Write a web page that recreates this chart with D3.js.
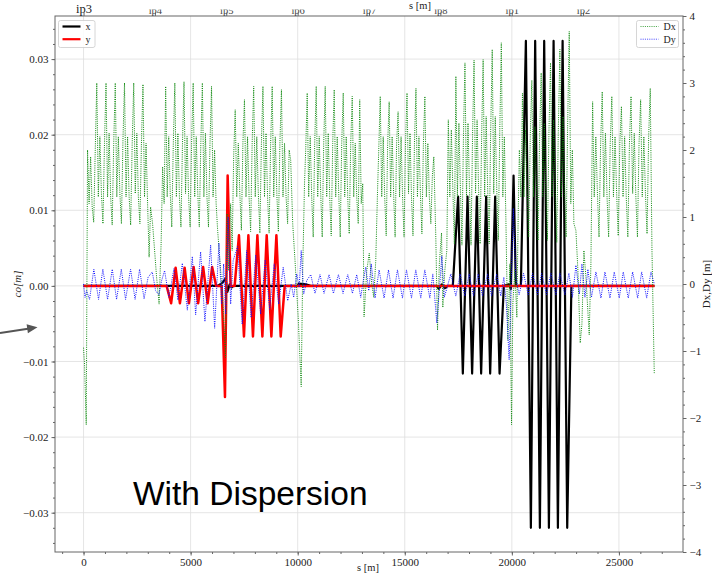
<!DOCTYPE html>
<html>
<head>
<meta charset="utf-8">
<script src="https://cdn.jsdelivr.net/npm/d3@7"></script>
<style>
  body { margin: 0; background: #fff; }
</style>
</head>
<body>
<svg id="chart"></svg>
<script>
const [W, H] = [712, 574];
const plot = {left: 55, right: 683, top: 16, bottom: 552};
const serif = '"Liberation Serif", "DejaVu Serif", serif';

// axis ticks / labels
const sTicks = [0, 5000, 10000, 15000, 20000, 25000];
const coTicks = [-0.03, -0.02, -0.01, 0, 0.01, 0.02, 0.03];
const dTicks = [-4, -3, -2, -1, 0, 1, 2, 3, 4];
const ipNames = ['ip3', 'ip4', 'ip5', 'ip6', 'ip7', 'ip8', 'ip1', 'ip2'];
const ipPos = [0, 3332, 6664, 9997, 13329, 16661, 19994, 23326];

// closed orbit, horizontal (black) [s, co]
const orbitX = [
  [0, 0], [6262, 0], [6482, 0.0004], [6636, 0.001], [6716, -0.0008], [6823, 0.0002],
  [6916, -0.0002], [7000, 0], [10000, 0], [10047, 0.0003], [10374, 0.0002], [10608, 0],
  [16496, 0], [16589, -0.0004], [16729, 0.0002], [16870, -0.0003], [17010, 0],
  [17243, 0], [17491, 0.0118], [17711, -0.0116], [17930, 0.0118], [18145, -0.0116],
  [18365, 0.0118], [18566, -0.0116], [18800, 0.0118], [18987, -0.0116], [19220, 0.0118],
  [19426, -0.0116], [19627, 0], [19860, 0.0002], [19953, -0.0004], [20080, 0.0146],
  [20187, 0], [20421, 0],
  [20655, 0.0324], [20888, -0.032], [21089, 0.0324], [21309, -0.032], [21510, 0.0324],
  [21730, -0.032], [21949, 0.0324], [22150, -0.032], [22370, 0.0324], [22585, -0.032],
  [22781, 0], [26659, 0]
];

// closed orbit, vertical (red) [s, co]
const orbitY = [
  [0, 0], [3879, 0], [4089, -0.0023], [4299, 0.0024], [4500, -0.0023], [4720, 0.0024],
  [4921, -0.0023], [5140, 0.0025], [5351, -0.0023], [5584, 0.0025], [5795, -0.0023],
  [6005, 0.0025], [6192, 0], [6449, 0], [6604, -0.0147], [6729, 0.0146], [6869, 0],
  [7056, 0], [7257, 0.0067], [7491, -0.0067], [7697, 0.0067], [7911, -0.0067],
  [8117, 0.0067], [8351, -0.0067], [8552, 0.0067], [8771, -0.0067], [9005, 0.0067],
  [9206, -0.0067], [9393, 0], [26659, 0]
];

// horizontal dispersion: arcs (evenly spaced samples between start and end)
const arcStart = [187, 3692, 7010, 10374, 13785, 17033, 20351, 23772];
const arcEnd = [2991, 6262, 9673, 13037, 16356, 19720, 22898, 26463];
const dxArc1 = [2.0, 1.2, 1.9, 1.15, 0.92, 2.0, 3.0, 1.3, 2.2, 1.35, 0.9, 2.1, 3.0, 1.3, 2.25, 1.3,
  0.88, 2.1, 3.0, 1.3, 2.2, 1.35, 0.9, 2.15, 3.0, 1.3, 2.2, 1.3, 0.88, 2.1, 3.0, 1.35, 2.25, 1.3,
  0.9, 2.1, 2.98, 1.3, 2.1, 1.2];
const dxArc2 = [1.75, 1.2, 2.95, 1.3, 2.2, 1.35, 0.85, 2.1, 3.0, 1.3, 2.25, 1.3, 0.85, 2.1, 3.02,
  1.35, 2.2, 1.3, 0.85, 2.15, 3.0, 1.3, 2.2, 1.35, 0.85, 2.1, 3.0, 1.3, 2.25, 1.3, 0.85, 2.1, 2.95,
  1.3, 2.0, 1.2, 0.8];
const dxArc3 = [1.9, 2.6, 1.3, 2.1, 1.35, 0.8, 2.1, 2.75, 1.3, 2.2, 1.3, 0.78, 2.1, 2.95, 1.3, 2.2,
  1.35, 0.76, 2.1, 2.95, 1.3, 2.25, 1.3, 0.76, 2.1, 2.95, 1.3, 2.2, 1.35, 0.78, 2.1, 2.9, 1.3, 2.1,
  1.3, 0.9, 2.0, 1.85];
const dxArc4 = [2.0, 2.85, 1.3, 2.2, 1.3, 0.7, 2.1, 2.95, 1.3, 2.2, 1.35, 0.7, 2.1, 2.95, 1.3, 2.25,
  1.3, 0.72, 2.1, 2.9, 1.3, 2.2, 1.35, 0.7, 2.1, 2.85, 1.3, 2.2, 1.3, 0.75, 2.1, 2.8, 1.3, 2.1, 1.3,
  0.9, 2.75, 1.2, 1.5];
const dxArc5 = [2.0, 2.8, 1.3, 2.2, 1.3, 0.72, 2.1, 2.72, 1.3, 2.2, 1.35, 0.7, 2.1, 2.57, 1.3, 2.2,
  1.3, 0.7, 2.1, 2.85, 1.35, 2.25, 1.3, 0.72, 2.1, 2.92, 1.3, 2.2, 1.35, 0.75, 2.1, 2.8, 1.3, 2.1,
  1.3, 0.9, 1.6, 1.9];
const dxArc6 = [2.45, 1.3, 2.3, 1.4, 0.6, 3.1, 1.3, 2.4, 1.4, 0.58, 2.2, 3.3, 1.3, 2.4, 1.4, 0.58,
  2.2, 3.34, 1.35, 2.45, 1.4, 0.6, 2.2, 3.35, 1.3, 2.5, 1.4, 0.6, 2.3, 3.5, 1.35, 2.5, 1.4, 0.65,
  2.3, 3.6, 1.3, 2.2, 1.0];
const dxArc7 = [2.0, 1.3, 2.85, 1.3, 2.3, 1.4, 0.7, 2.2, 3.04, 1.3, 2.35, 1.4, 0.65, 2.2, 3.15, 1.3,
  2.4, 1.4, 0.65, 2.3, 3.3, 1.3, 2.45, 1.4, 0.62, 2.3, 3.5, 1.3, 2.5, 1.4, 0.7, 2.4, 3.77, 1.2, 2.0,
  0.9];
const dxArc8 = [2.72, 1.3, 2.2, 1.35, 0.7, 2.1, 2.87, 1.3, 2.25, 1.3, 0.7, 2.1, 2.8, 1.3, 2.2, 1.35,
  0.72, 2.1, 2.65, 1.3, 2.2, 1.3, 0.7, 2.1, 2.8, 1.35, 2.25, 1.3, 0.7, 2.1, 2.75, 1.3, 2.2, 1.35,
  0.75, 2.2, 2.92];
// horizontal dispersion in the insertions [s, Dx]
const dxInsert = [
  [0, -0.95], [47, -1.2], [126, -2.1],
  [3061, 0.4], [3131, 1.15], [3224, 0.9], [3318, 0.5], [3411, 0.1], [3528, -0.3], [3622, 0.6],
  [6379, 0.3], [6496, -0.2], [6627, -1.1], [6706, 1.05], [6776, 0.2], [6869, 1.2], [6939, 0.5],
  [9767, 0.9], [9884, 0.3], [10024, -0.5], [10164, -1.53], [10234, 0.2], [10318, 1.5],
  [13099, -0.49], [13225, 0.2], [13342, 0.46], [13458, 0.0], [13552, -0.2], [13645, 0.35], [13729, 1.4],
  [16449, 0.7], [16529, -0.69], [16613, 0.3], [16716, 0.76], [16776, -0.35], [16870, 0.2], [16963, 0.5],
  [19813, -0.84], [19907, 0.3], [19953, -1.2], [19986, -2.1], [20047, -0.3], [20140, 0.2],
  [20234, -0.5], [20295, 1.0],
  [22991, 0.8], [23085, 0.2], [23192, -0.88], [23272, -0.6], [23365, 0.5], [23459, 0.1],
  [23613, -0.76], [23692, 0.3],
  [26543, 0.5], [26650, -1.33]
];

// vertical dispersion [s, Dy]
const dispY = [
  [0, 0.0], [70, -0.2], [140, -0.1], [280, -0.23], [481, 0.22], [701, -0.23], [902, 0.22],
  [1122, -0.23], [1341, 0.22], [1542, -0.23], [1762, 0.22], [1963, -0.23], [2196, 0.22],
  [2407, -0.23], [2617, 0.22], [2827, -0.22], [3014, 0.1], [3210, 0.18], [3365, -0.1],
  [3519, -0.16], [3645, 0.05], [3785, 0.2], [3986, -0.2], [4220, 0.23], [4407, -0.24],
  [4612, 0.31], [4846, -0.39], [5080, 0.41], [5234, -0.46], [5467, 0.48], [5668, -0.56],
  [5935, 0.58], [6122, -0.66], [6323, 0.61], [6449, -0.3], [6542, 0.3], [6636, -0.45],
  [6753, 1.0], [6869, -0.3], [6986, 0.35], [7196, 0.56], [7407, -0.6], [7617, 0.5],
  [7827, -0.5], [8038, 0.43], [8271, -0.45], [8482, 0.36], [8692, -0.38], [8902, 0.3],
  [9112, -0.3], [9323, 0.25], [9533, -0.25], [9697, 0.0], [9813, -0.2], [9953, 0.15],
  [10070, -0.05], [10164, 0.5], [10281, -0.15], [10421, 0.05], [10608, 0.14], [10809, -0.14],
  [11042, 0.14], [11229, -0.14], [11463, 0.14], [11669, -0.14], [11902, 0.14], [12117, -0.14],
  [12337, 0.14], [12556, -0.14], [12757, 0.14], [12944, -0.2], [13061, 0.05], [13178, 0.25],
  [13318, -0.1], [13435, 0.3], [13613, -0.21], [13800, 0.21], [14033, -0.21], [14239, 0.21],
  [14454, -0.21], [14659, 0.21], [14893, -0.21], [15080, 0.21], [15314, -0.21], [15514, 0.21],
  [15748, -0.21], [15935, 0.21], [16169, -0.21], [16309, 0.15], [16496, -0.58], [16659, 0.1],
  [16729, 0.42], [16846, -0.2], [17150, 0.15], [17384, -0.18], [17585, 0.15], [17804, -0.18],
  [18005, 0.15], [18211, -0.18], [18426, 0.15], [18631, -0.18], [18865, 0.15], [19052, -0.18],
  [19286, 0.15], [19486, -0.18], [19627, 0.1], [19743, -0.3], [19874, -1.13], [19953, -0.2],
  [20070, 1.13], [20187, 0.1], [20341, -0.16], [20547, 0.16], [20762, -0.16], [20968, 0.16],
  [21201, -0.16], [21388, 0.16], [21622, -0.16], [21823, 0.16], [22057, -0.16], [22244, 0.16],
  [22477, -0.16], [22664, 0.16], [22828, -0.2], [22991, 0.28], [23155, -0.15], [23272, 0.3],
  [23412, -0.2], [23552, 0.22], [23716, -0.2], [23926, 0.18], [24160, -0.21], [24347, 0.18],
  [24581, -0.21], [24781, 0.18], [25015, -0.21], [25202, 0.18], [25436, -0.21], [25641, 0.18],
  [25875, -0.21], [26062, 0.18], [26296, -0.21], [26497, 0.18], [26650, 0.0]
];

// ---- build the Dx series from arcs + insertions
const dxArcs = [dxArc1, dxArc2, dxArc3, dxArc4, dxArc5, dxArc6, dxArc7, dxArc8];
const dispX = dxInsert.slice();
dxArcs.forEach((vals, i) => {
  const pos = d3.scaleLinear().domain([0, vals.length - 1]).range([arcStart[i], arcEnd[i]]);
  vals.forEach((v, j) => dispX.push([pos(j), v]));
});
dispX.sort((a, b) => a[0] - b[0]);

// ---- scales
const x = d3.scaleLinear().domain([-1333, 27992]).range([plot.left, plot.right]);
const yL = d3.scaleLinear().domain([-0.0352, 0.0357]).range([plot.bottom, plot.top]);
const yR = d3.scaleLinear().domain([-4, 4]).range([plot.bottom, plot.top]);

const svg = d3.select('#chart').attr('width', W).attr('height', H)
  .style('font-family', serif);
svg.append('rect').attr('width', W).attr('height', H).attr('fill', '#fff');

svg.append('clipPath').attr('id', 'plotclip')
  .append('rect')
  .attr('x', plot.left).attr('y', plot.top)
  .attr('width', plot.right - plot.left).attr('height', plot.bottom - plot.top);

// grid
const grid = svg.append('g').attr('stroke', '#dedede').attr('stroke-width', 0.8);
grid.selectAll('line.v').data(sTicks).join('line')
  .attr('x1', d => x(d)).attr('x2', d => x(d))
  .attr('y1', plot.top).attr('y2', plot.bottom);
grid.selectAll('line.h').data(coTicks).join('line')
  .attr('x1', plot.left).attr('x2', plot.right)
  .attr('y1', d => yL(d)).attr('y2', d => yL(d));

// data lines
const lines = svg.append('g').attr('clip-path', 'url(#plotclip)');
const lineL = d3.line().x(d => x(d[0])).y(d => yL(d[1]));
const lineR = d3.line().x(d => x(d[0])).y(d => yR(d[1]));

lines.append('path').datum(orbitX)
  .attr('fill', 'none').attr('stroke', '#000').attr('stroke-width', 2.2)
  .attr('stroke-linejoin', 'round')
  .attr('d', lineL);
lines.append('path').datum(orbitY)
  .attr('fill', 'none').attr('stroke', '#ff0000').attr('stroke-width', 2.5)
  .attr('stroke-linejoin', 'round')
  .attr('d', lineL);
lines.append('path').datum(dispX)
  .attr('fill', 'none').attr('stroke', '#108a10').attr('stroke-width', 1)
  .attr('stroke-dasharray', '1,1.2')
  .attr('d', lineR);
lines.append('path').datum(dispY)
  .attr('fill', 'none').attr('stroke', '#1010ff').attr('stroke-width', 1)
  .attr('stroke-dasharray', '1,1.2')
  .attr('d', lineR);

// spines
svg.append('rect')
  .attr('x', plot.left).attr('y', plot.top)
  .attr('width', plot.right - plot.left).attr('height', plot.bottom - plot.top)
  .attr('fill', 'none').attr('stroke', '#666').attr('stroke-width', 1);

const styleAxis = g => {
  g.select('.domain').remove();
  g.selectAll('.tick line').attr('stroke', '#666');
  g.selectAll('.tick text').attr('fill', '#222').attr('font-size', 11)
    .attr('font-family', serif);
};

// bottom axis
svg.append('g').attr('transform', `translate(0,${plot.bottom})`)
  .call(d3.axisBottom(x).tickValues(d3.range(-1000, 28000, 1000)).tickSize(2).tickFormat(''))
  .call(styleAxis);
svg.append('g').attr('transform', `translate(0,${plot.bottom})`)
  .call(d3.axisBottom(x).tickValues(sTicks).tickSize(3.5).tickPadding(3).tickFormat(d3.format('d')))
  .call(styleAxis);

// top axis (IP names)
const topAxis = svg.append('g').attr('transform', `translate(0,${plot.top})`)
  .call(d3.axisTop(x).tickValues(ipPos).tickSize(3.5).tickPadding(3)
    .tickFormat((d, i) => ipNames[i]))
  .call(styleAxis);
// labels after the first one are partly hidden at their top in the reference
svg.append('clipPath').attr('id', 'ipclip')
  .append('rect').attr('x', -40).attr('y', 9.5 - plot.top).attr('width', 80).attr('height', 12);
topAxis.selectAll('.tick text')
  .attr('y', (d, i) => i === 0 ? -3 : -2)
  .attr('font-size', (d, i) => i === 0 ? 12.5 : 10.5)
  .attr('fill', (d, i) => i === 0 ? '#222' : '#444')
  .attr('clip-path', (d, i) => i === 0 ? null : 'url(#ipclip)');

// left axis
svg.append('g').attr('transform', `translate(${plot.left},0)`)
  .call(d3.axisLeft(yL).tickValues(d3.range(-0.034, 0.0355, 0.002)).tickSize(2).tickFormat(''))
  .call(styleAxis);
svg.append('g').attr('transform', `translate(${plot.left},0)`)
  .call(d3.axisLeft(yL).tickValues(coTicks).tickSize(3.5).tickPadding(3).tickFormat(d3.format('.2f')))
  .call(styleAxis);

// right axis
svg.append('g').attr('transform', `translate(${plot.right},0)`)
  .call(d3.axisRight(yR).tickValues(d3.range(-3.8, 4, 0.2)).tickSize(2).tickFormat(''))
  .call(styleAxis);
svg.append('g').attr('transform', `translate(${plot.right},0)`)
  .call(d3.axisRight(yR).tickValues(dTicks).tickSize(3.5).tickPadding(3).tickFormat(d3.format('d')))
  .call(styleAxis);

// axis labels
svg.append('text').attr('x', 368).attr('y', 571).attr('text-anchor', 'middle')
  .attr('font-size', 10.5).attr('fill', '#222').text('s [m]');
svg.append('text').attr('x', 420).attr('y', 8.5).attr('text-anchor', 'middle')
  .attr('font-size', 10.5).attr('fill', '#222').text('s [m]');
svg.append('text').attr('transform', 'translate(21,284) rotate(-90)')
  .attr('text-anchor', 'middle').attr('font-size', 11).attr('font-style', 'italic')
  .attr('fill', '#222').text('co[m]');
svg.append('text').attr('transform', 'translate(710,284) rotate(-90)')
  .attr('text-anchor', 'middle').attr('font-size', 11)
  .attr('fill', '#222').text('Dx,Dy [m]');

// legends
const legend = (lx, ly, w, items) => {
  const g = svg.append('g').attr('transform', `translate(${lx},${ly})`);
  g.append('rect').attr('width', w).attr('height', 27).attr('rx', 2)
    .attr('fill', '#fff').attr('fill-opacity', 0.85)
    .attr('stroke', '#ccc').attr('stroke-width', 0.8);
  items.forEach((it, i) => {
    const yy = 6 + i * 12.7;
    g.append('line').attr('x1', 4).attr('x2', 22).attr('y1', yy).attr('y2', yy)
      .attr('stroke', it.color).attr('stroke-width', it.width)
      .attr('stroke-dasharray', it.dash);
    g.append('text').attr('x', 27).attr('y', yy + 3.5).attr('font-size', 10)
      .attr('fill', '#222').text(it.label);
  });
};
legend(58.5, 20.5, 36.5, [
  {label: 'x', color: '#000', width: 2.2, dash: null},
  {label: 'y', color: '#ff0000', width: 2.2, dash: null}
]);
legend(636.5, 20.5, 42, [
  {label: 'Dx', color: '#108a10', width: 0.8, dash: '1,1.2'},
  {label: 'Dy', color: '#1010ff', width: 0.8, dash: '1,1.2'}
]);

// annotation
svg.append('text').attr('x', 133).attr('y', 505)
  .attr('font-family', '"Liberation Sans", Arial, sans-serif')
  .attr('font-size', 33.5).attr('fill', '#000').text('With Dispersion');

const arrow = svg.append('g').attr('fill', '#555').attr('stroke', '#555');
arrow.append('line').attr('x1', 0).attr('y1', 333).attr('x2', 28).attr('y2', 328.8)
  .attr('stroke-width', 2);
arrow.append('path').attr('stroke', 'none')
  .attr('d', 'M37.5,327.3 L26.6,324.3 L27.9,333.2 Z');
</script>
</body>
</html>
